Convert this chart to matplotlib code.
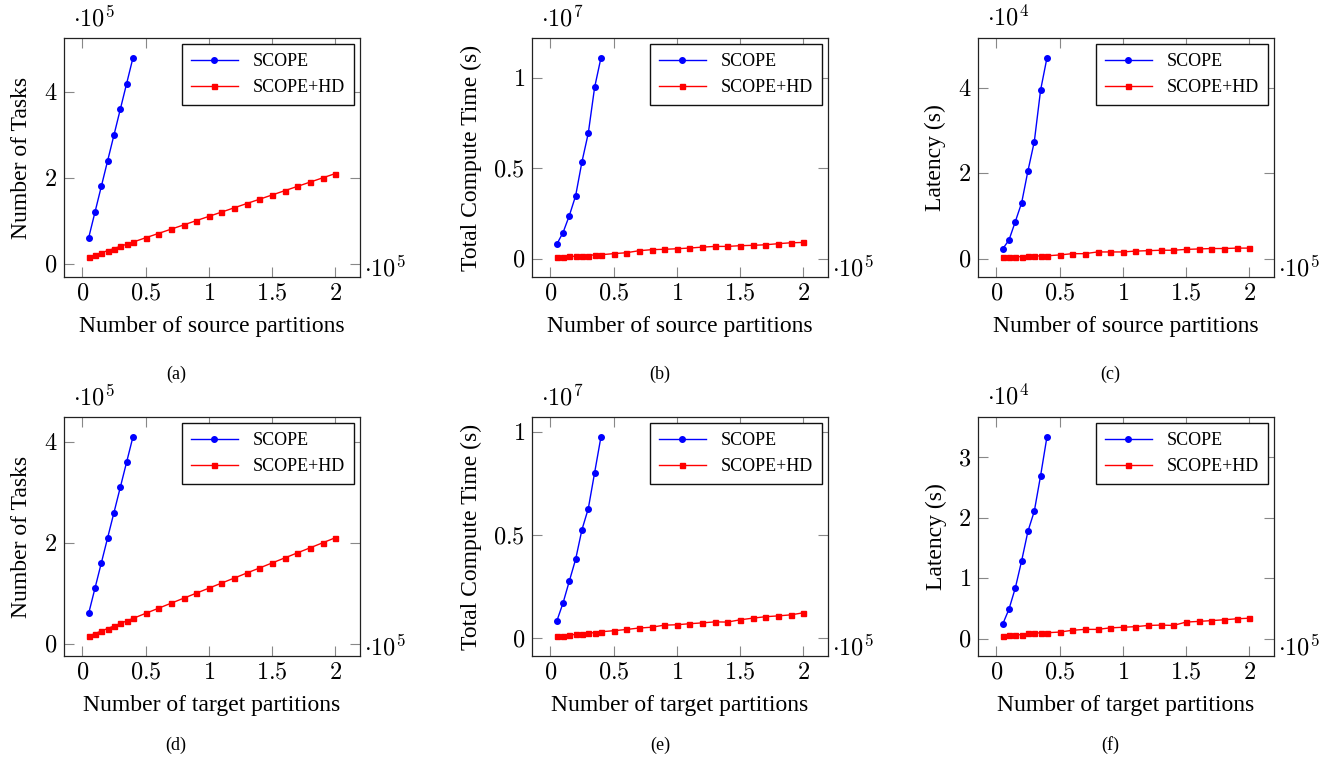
import matplotlib
matplotlib.use("Agg")
import matplotlib.pyplot as plt
from matplotlib.ticker import FuncFormatter

plt.rcParams["font.family"] = ["Liberation Serif", "DejaVu Serif"]
plt.rcParams["mathtext.fontset"] = "cm"

# ── Data (x in units of 1e5 partitions) ─────────────────────────────────
x_scope = [0.05, 0.1, 0.15, 0.2, 0.25, 0.3, 0.35, 0.4]
x_hd = [0.05, 0.1, 0.15, 0.2, 0.25, 0.3, 0.35, 0.4,
        0.5, 0.6, 0.7, 0.8, 0.9, 1.0, 1.1, 1.2,
        1.3, 1.4, 1.5, 1.6, 1.7, 1.8, 1.9, 2.0]

# source partitions
tasks_src_scope = [0.6, 1.2, 1.8, 2.4, 3.0, 3.6, 4.2, 4.8]                   # 1e5
tasks_src_hd = [0.15, 0.2, 0.25, 0.3, 0.35, 0.4, 0.45, 0.5,
                0.6, 0.7, 0.8, 0.9, 1.0, 1.1, 1.2, 1.3,
                1.4, 1.5, 1.6, 1.7, 1.8, 1.9, 2.0, 2.1]
compute_src_scope = [0.079, 0.144, 0.238, 0.348, 0.536, 0.694, 0.947, 1.11]  # 1e7
compute_src_hd = [0.009, 0.011, 0.013, 0.013, 0.017, 0.017, 0.022, 0.022,
                  0.028, 0.033, 0.044, 0.05, 0.052, 0.055, 0.059, 0.064,
                  0.068, 0.068, 0.072, 0.074, 0.077, 0.083, 0.088, 0.09]
latency_src_scope = [0.23, 0.44, 0.87, 1.31, 2.06, 2.74, 3.95, 4.70]         # 1e4
latency_src_hd = [0.04, 0.05, 0.05, 0.05, 0.06, 0.06, 0.07, 0.07,
                  0.09, 0.12, 0.12, 0.16, 0.16, 0.16, 0.18, 0.19,
                  0.2, 0.2, 0.22, 0.23, 0.24, 0.24, 0.25, 0.25]

# target partitions
tasks_tgt_scope = [0.6, 1.1, 1.6, 2.1, 2.6, 3.1, 3.6, 4.1]
tasks_tgt_hd = [0.15, 0.2, 0.25, 0.3, 0.35, 0.4, 0.45, 0.5,
                0.6, 0.7, 0.8, 0.9, 1.0, 1.1, 1.2, 1.3,
                1.4, 1.5, 1.6, 1.7, 1.8, 1.9, 2.0, 2.1]
compute_tgt_scope = [0.081, 0.17, 0.277, 0.383, 0.527, 0.629, 0.803, 0.977]
compute_tgt_hd = [0.01, 0.011, 0.015, 0.018, 0.021, 0.024, 0.027, 0.031,
                  0.036, 0.042, 0.049, 0.053, 0.063, 0.065, 0.07, 0.074,
                  0.079, 0.078, 0.089, 0.097, 0.104, 0.108, 0.113, 0.123]
latency_tgt_scope = [0.24, 0.49, 0.84, 1.29, 1.78, 2.11, 2.70, 3.34]
latency_tgt_hd = [0.044, 0.06, 0.066, 0.066, 0.088, 0.088, 0.1, 0.1,
                  0.11, 0.14, 0.155, 0.155, 0.18, 0.19, 0.2, 0.22,
                  0.226, 0.22, 0.276, 0.287, 0.3, 0.314, 0.33, 0.34]

x_ticks = [0, 0.5, 1, 1.5, 2]
# ─────────────────────────────────────────────────────────────────────────

W, H = 1332, 771
fig = plt.figure(figsize=(W / 100, H / 100), dpi=100)

panels = [
    # (left px, top px, scope, hd, ylabel, xlabel, yexp, yticks,
    #  caption, caption x px, caption y px)
    (64, 38, tasks_src_scope, tasks_src_hd, "Number of Tasks",
     "Number of source partitions", 5, [0, 2, 4], "(a)", 176, 374),
    (532, 38, compute_src_scope, compute_src_hd, "Total Compute Time (s)",
     "Number of source partitions", 7, [0, 0.5, 1], "(b)", 660, 374),
    (978, 38, latency_src_scope, latency_src_hd, "Latency (s)",
     "Number of source partitions", 4, [0, 2, 4], "(c)", 1110, 374),
    (64, 417, tasks_tgt_scope, tasks_tgt_hd, "Number of Tasks",
     "Number of target partitions", 5, [0, 2, 4], "(d)", 176, 745),
    (532, 417, compute_tgt_scope, compute_tgt_hd, "Total Compute Time (s)",
     "Number of target partitions", 7, [0, 0.5, 1], "(e)", 660, 745),
    (978, 417, latency_tgt_scope, latency_tgt_hd, "Latency (s)",
     "Number of target partitions", 4, [0, 1, 2, 3], "(f)", 1110, 745),
]

AX_W, AX_H = 296, 239
fmt = FuncFormatter(lambda v, _: f"${v:g}$")

for left, top, scope, hd, ylab, xlab, yexp, yticks, cap, cap_x, cap_y in panels:
    ax = fig.add_axes([left / W, 1 - (top + AX_H) / H, AX_W / W, AX_H / H])
    ax.plot(x_scope, scope, color="#0000ff", lw=1.0, marker="o", ms=4,
            label="SCOPE")
    ax.plot(x_hd, hd, color="#ff0000", lw=1.0, marker="s", ms=3.6,
            label="SCOPE+HD")
    ax.margins(0.1)
    ax.set_xticks(x_ticks)
    ax.set_yticks(yticks)
    ax.xaxis.set_major_formatter(fmt)
    ax.yaxis.set_major_formatter(fmt)
    ax.tick_params(direction="in", top=True, right=True, length=7,
                   width=0.8, color="#888888", labelsize=17.5, pad=5)
    for s in ax.spines.values():
        s.set_linewidth(0.9)
        s.set_color("#222222")
    ax.set_ylabel(ylab, fontsize=17, labelpad=8)
    ax.set_xlabel(xlab, fontsize=17, labelpad=8)

    ax.text(0.03, 1.03, rf"$\cdot 10^{{{yexp}}}$", transform=ax.transAxes,
            fontsize=17.5, ha="left", va="bottom")
    ax.text(1.015, 0.005, r"$\cdot 10^{5}$", transform=ax.transAxes,
            fontsize=17.5, ha="left", va="baseline")

    leg = ax.legend(loc="upper right", fontsize=13, fancybox=False,
                    framealpha=1, edgecolor="#111111", borderaxespad=0.35,
                    handlelength=2.6, borderpad=0.5, labelspacing=0.5)
    leg.get_frame().set_linewidth(1.0)

    fig.text(cap_x / W, 1 - cap_y / H, cap, fontsize=13,
             ha="center", va="center")

fig.savefig("out.png", dpi=100)
